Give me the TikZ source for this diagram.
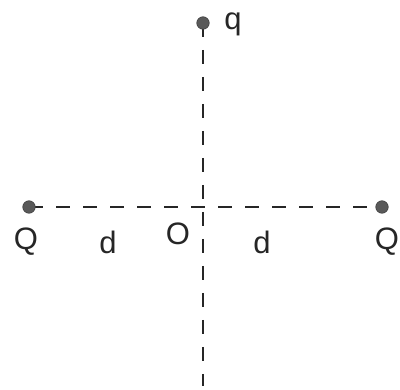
\documentclass[tikz,border=0pt]{standalone}
\usepackage{fontspec}
\setmainfont{Liberation Sans}
\begin{document}
\begin{tikzpicture}[x=1pt,y=-1pt,
  dot/.style={circle,fill=black!65,draw=black!75,line width=0.6pt,minimum size=12.5pt,inner sep=0pt},
  dashline/.style={draw=black!85,line width=1.6pt,dash pattern=on 14pt off 13pt},
  lbl/.style={font=\fontsize{31}{33}\selectfont,text=black!85,inner sep=0pt}]
\useasboundingbox (0,0) rectangle (400,390);
\coordinate (qc) at (203,23);
\coordinate (QLc) at (29,207);
\coordinate (QRc) at (382,207);
\coordinate (Oc) at (203,207);
\coordinate (bot) at (203,386);
\draw[dashline] (QLc) -- (QRc);
\draw[dashline] (qc) -- (bot);
\node[dot] (q) at (qc) {};
\node[dot] (QL) at (QLc) {};
\node[dot] (QR) at (QRc) {};
\node[lbl] (lq) at (233,24) {q};
\node[lbl] (lQL) at (26,242) {Q};
\node[lbl] (lQR) at (387,242) {Q};
\node[lbl] (ld1) at (108,242) {d};
\node[lbl] (lO) at (178,234) {O};
\node[lbl] (ld2) at (262,242) {d};
\end{tikzpicture}
\end{document}
